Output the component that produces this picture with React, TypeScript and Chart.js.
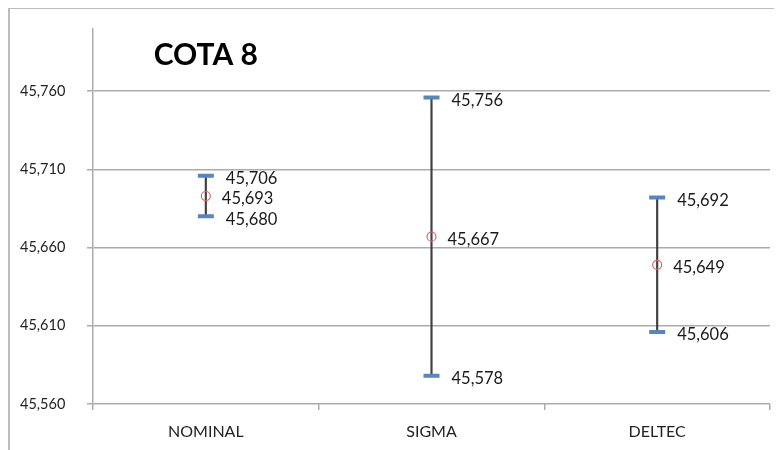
import React, { useEffect, useRef } from "react";
import { Chart, registerables } from "chart.js";

Chart.register(...registerables);

const CATEGORIES = ["NOMINAL", "SIGMA", "DELTEC"];
const HIGH_VALUES = [45.706, 45.756, 45.692];
const MEAN_VALUES = [45.693, 45.667, 45.649];
const LOW_VALUES = [45.68, 45.578, 45.606];
const TICK_VALUES = [45.56, 45.61, 45.66, 45.71, 45.76];
const TICK_LABELS = ["45,560", "45,610", "45,660", "45,710", "45,760"];
const TITLE = "COTA 8";

const fmt = (v: number) => v.toFixed(3).replace(".", ",");

const FONT = "Lato, 'Open Sans', sans-serif";

const decorPlugin = {
  id: "decor",
  beforeDraw(chart: any) {
    const ctx = chart.ctx;
    ctx.save();
    ctx.strokeStyle = "#BDBDBD";
    ctx.lineWidth = 2;
    ctx.beginPath();
    ctx.moveTo(1, chart.height);
    ctx.lineTo(1, 0);
    ctx.lineTo(chart.width, 0);
    ctx.stroke();
    ctx.restore();
  },
  afterDraw(chart: any) {
    const ctx = chart.ctx;
    const x = chart.scales.x;
    ctx.save();
    ctx.fillStyle = "#000";
    ctx.font = `bold 30px ${FONT}`;
    ctx.textAlign = "center";
    ctx.textBaseline = "middle";
    ctx.fillText(TITLE, x.getPixelForValue(0), 47);

    ctx.font = `16.5px ${FONT}`;
    ctx.fillStyle = "#1a1a1a";
    ctx.textAlign = "left";
    chart.data.datasets.forEach((ds: any, di: number) => {
      if (ds.type !== "line") return;
      const meta = chart.getDatasetMeta(di);
      const off = ds.labelOffset;
      meta.data.forEach((pt: any, i: number) => {
        ctx.fillText(fmt(ds.data[i]), pt.x + off, pt.y + 3);
      });
    });
    ctx.restore();
  },
};

export default function App() {
  const ref = useRef<HTMLCanvasElement>(null);
  useEffect(() => {
    if (!ref.current) return;
    const chart = new Chart(ref.current, {
      type: "bar",
      data: {
        labels: CATEGORIES,
        datasets: [
          {
            type: "bar",
            data: LOW_VALUES.map((l, i) => [l, HIGH_VALUES[i]]) as any,
            backgroundColor: "#404040",
            barThickness: 1.5,
            order: 10,
          } as any,
          {
            type: "line",
            data: HIGH_VALUES,
            showLine: false,
            pointStyle: "line",
            pointRadius: 8,
            pointBorderWidth: 4,
            pointBorderColor: "#5585C2",
            pointBackgroundColor: "#5585C2",
            labelOffset: 20,
            order: 1,
          } as any,
          {
            type: "line",
            data: LOW_VALUES,
            showLine: false,
            pointStyle: "line",
            pointRadius: 8,
            pointBorderWidth: 4,
            pointBorderColor: "#5585C2",
            pointBackgroundColor: "#5585C2",
            labelOffset: 20,
            order: 1,
          } as any,
          {
            type: "line",
            data: MEAN_VALUES,
            showLine: false,
            pointStyle: "circle",
            pointRadius: 4.5,
            pointBorderWidth: 1.2,
            pointBorderColor: "#D06A68",
            pointBackgroundColor: "rgba(255,255,255,0)",
            labelOffset: 16,
            order: 1,
          } as any,
        ],
      },
      options: {
        responsive: false,
        animation: false,
        layout: { padding: { top: 14, right: 9, left: 12, bottom: 0 } },
        plugins: {
          legend: { display: false },
          tooltip: { enabled: false },
          title: { display: false },
        },
        scales: {
          x: {
            offset: true,
            grid: {
              offset: true,
              drawOnChartArea: false,
              drawTicks: true,
              tickLength: 6,
              color: "#ABABAB",
              lineWidth: 1.5,
            },
            border: { display: false },
            ticks: {
              color: "#222",
              font: { family: FONT, size: 16 },
              padding: 12,
            },
            afterFit: (s: any) => {
              s.height = 46;
            },
          },
          y: {
            min: 45.56,
            max: 45.8,
            afterBuildTicks: (axis: any) => {
              axis.ticks = TICK_VALUES.map((v) => ({ value: v }));
            },
            grid: {
              color: "#ABABAB",
              lineWidth: 1.5,
              tickLength: 6,
            },
            border: { display: true, color: "#ABABAB", width: 1.5 },
            ticks: {
              color: "#222",
              font: { family: FONT, size: 14.5 },
              padding: 12,
              crossAlign: "far",
              callback: (_v: any, i: number) => TICK_LABELS[i],
            },
            afterFit: (s: any) => {
              s.width = 73;
            },
          },
        },
      },
      plugins: [decorPlugin],
    });
    return () => chart.destroy();
  }, []);
  return <canvas ref={ref} width={774} height={442} style={{ display: "block" }} />;
}
